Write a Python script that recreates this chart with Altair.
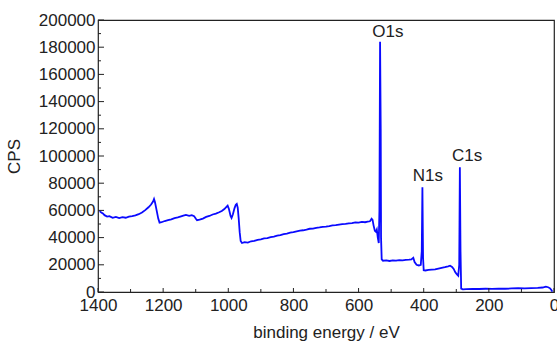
import altair as alt
import pandas as pd

# XPS survey spectrum
energy = [1395, 1390, 1385, 1380, 1372, 1365, 1355, 1345, 1335, 1325, 1315, 1305, 1295, 1285,
          1275, 1265, 1255, 1245, 1237, 1231, 1228, 1225, 1220, 1215, 1211, 1205, 1195, 1185,
          1175, 1165, 1155, 1145, 1138, 1130, 1120, 1112, 1105, 1100, 1096, 1088, 1078, 1068,
          1058, 1048, 1038, 1028, 1020, 1012, 1005, 1002, 998, 993, 990, 986, 981, 977, 974,
          971, 968, 965, 962, 958, 950, 940, 930, 920, 910, 900, 890, 880, 870, 860, 850, 840,
          830, 820, 810, 800, 790, 780, 770, 760, 750, 740, 730, 720, 710, 700, 690, 680, 670,
          660, 650, 640, 630, 620, 610, 600, 590, 580, 572, 565, 560, 557, 554, 550, 547, 544,
          541, 538, 536, 534, 532, 531, 529, 525, 515, 505, 495, 485, 475, 465, 455, 445, 438,
          432, 428, 422, 415, 409, 406, 404, 402, 400, 395, 385, 375, 365, 355, 345, 335, 325,
          319, 313, 308, 303, 298, 294, 291, 289, 287, 285, 280, 270, 250, 230, 210, 190, 170,
          150, 130, 110, 90, 70, 50, 35, 25, 18, 12, 8, 5]
cps = [59500, 58500, 57800, 56500, 55500, 55800, 54500, 55200, 54300, 55000, 54600, 55400, 55800, 56300,
       57200, 58400, 60200, 62300, 64300, 66500, 68400, 66000, 60000, 54000, 51000, 51300, 52200, 52800,
       53400, 54300, 54800, 55600, 56200, 56700, 56000, 56500, 55800, 54000, 52800, 53200, 54000, 55200,
       55900, 57000, 57600, 58600, 59600, 61000, 62800, 63500, 61000, 56000, 54500, 57000, 61500, 64200, 64800,
       62000, 54000, 44000, 37500, 36000, 36600, 36300, 37300, 37600, 38400, 38700, 39400, 39600, 40300, 40800, 41500, 41900,
       42600, 43000, 43700, 44000, 44600, 45100, 45400, 45900, 46500, 46600, 47200, 47500, 47900, 48100, 48500, 49000, 49200,
       49600, 49900, 50100, 50500, 50600, 51200, 51000, 51500, 51300, 51800, 52000, 53800, 53000, 49000, 45000, 44300, 46000,
       40000, 36000, 60000, 184000, 120000, 40000, 24000, 23000, 23200, 22800, 23300, 23100, 23500, 23300, 23600, 23800, 24000,
       25200, 22000, 20000, 19500, 20000, 30000, 77000, 25000, 16000, 15800, 16200, 16400, 16600, 17200, 17800, 18300, 18900,
       19300, 18500, 17000, 14500, 13000, 12000, 20000, 91700, 30000, 2500, 2000, 2100, 2300, 2200, 2400, 2300, 2500,
       2400, 2600, 2800, 2700, 2900, 3000, 3300, 3900, 3500, 2700, 1500, 300]

peak_names = ["O1s", "N1s", "C1s"]
peak_label_x = [510, 387, 267]
peak_label_y = [191000, 85300, 100000]

x_major = [0, 200, 400, 600, 800, 1000, 1200, 1400]
x_minor = [100, 300, 500, 700, 900, 1100, 1300]
y_major = [0, 20000, 40000, 60000, 80000, 100000, 120000, 140000, 160000, 180000, 200000]
y_minor = [10000, 30000, 50000, 70000, 90000, 110000, 130000, 150000, 170000, 190000]

W, H = 456, 272
FONT = "Liberation Sans"

df = pd.DataFrame({"energy": energy, "cps": cps})
xs = alt.Scale(domain=[0, 1400], reverse=True, nice=False, zero=False)
ys = alt.Scale(domain=[0, 200000], nice=False)

x_axis = alt.Axis(
    values=x_major, format="d", title="binding energy / eV", tickSize=0, domain=False,
    grid=False, labelFlush=False, labelPadding=5, labelFontSize=17, titleFontSize=17,
    titlePadding=11, labelFont=FONT, titleFont=FONT, titleFontWeight="normal",
    labelColor="#222", titleColor="#222")
y_axis = alt.Axis(
    values=y_major, format="d", title="CPS", tickSize=0, domain=False, grid=False,
    labelFlush=False, labelPadding=3, labelFontSize=17, titleFontSize=17, titlePadding=15,
    labelFont=FONT, titleFont=FONT, titleFontWeight="normal",
    labelColor="#222", titleColor="#222")

line = alt.Chart(df).mark_line(color="#0a0aff", strokeWidth=1.8).encode(
    x=alt.X("energy:Q", scale=xs, axis=x_axis),
    y=alt.Y("cps:Q", scale=ys, axis=y_axis),
)

ytick_major = alt.Chart(pd.DataFrame({"v": y_major})).mark_rule(color="#222", strokeWidth=1).encode(
    y=alt.Y("v:Q", scale=ys, axis=y_axis), x=alt.value(0), x2=alt.value(6))
ytick_minor = alt.Chart(pd.DataFrame({"v": y_minor})).mark_rule(color="#222", strokeWidth=1).encode(
    y=alt.Y("v:Q", scale=ys, axis=y_axis), x=alt.value(0), x2=alt.value(3))
xtick_major = alt.Chart(pd.DataFrame({"v": x_major})).mark_rule(color="#222", strokeWidth=1).encode(
    x=alt.X("v:Q", scale=xs, axis=x_axis), y=alt.value(H), y2=alt.value(H - 4))
xtick_minor = alt.Chart(pd.DataFrame({"v": x_minor})).mark_rule(color="#222", strokeWidth=1).encode(
    x=alt.X("v:Q", scale=xs, axis=x_axis), y=alt.value(H), y2=alt.value(H - 3))

labels = alt.Chart(pd.DataFrame({"name": peak_names, "x": peak_label_x, "y": peak_label_y})).mark_text(
    font=FONT, fontSize=17, color="#222", baseline="middle", align="center").encode(
    x=alt.X("x:Q", scale=xs, axis=x_axis), y=alt.Y("y:Q", scale=ys, axis=y_axis), text="name:N")

chart = alt.layer(line, ytick_major, ytick_minor, xtick_major, xtick_minor, labels).properties(
    width=W, height=H,
    padding={"left": 98, "top": 20, "right": 3, "bottom": 52},
    autosize=alt.AutoSizeParams(type="none"),
    background="white",
).configure_view(stroke="#222", strokeWidth=1.2)

chart.save("out.html", embed_options={"renderer": "svg", "actions": False})
